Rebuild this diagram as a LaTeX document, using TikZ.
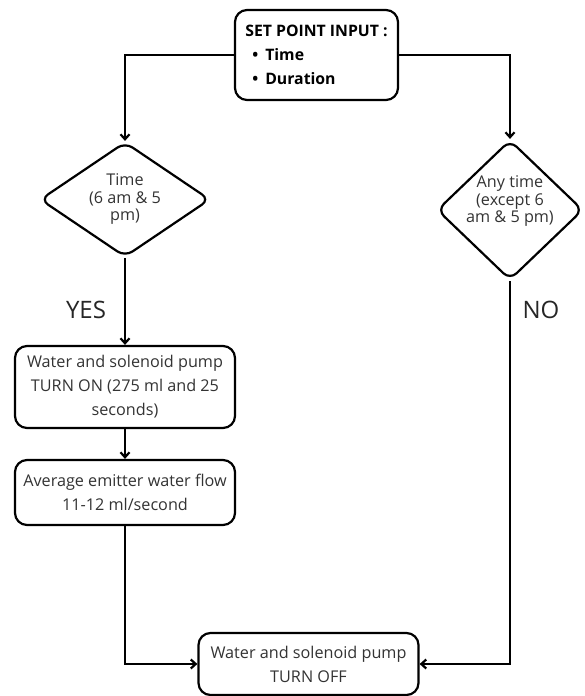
\documentclass[tikz,border=0pt]{standalone}
\usepackage{fontspec}
\setmainfont{Open Sans}
\usetikzlibrary{shapes.geometric,arrows.meta}

\begin{document}
\begin{tikzpicture}[x=1pt,y=-1pt,
    box/.style={draw,line width=2.2pt,rounded corners=12pt,align=center,inner sep=2pt,
        text=black!80,font=\fontsize{16.2}{24}\selectfont,minimum width=220pt},
    dec/.style={draw,line width=2.2pt,diamond,rounded corners=9pt,inner sep=0pt},
    lbl/.style={align=center,text=black!80,font=\fontsize{16.2}{17.5}\selectfont},
    arr/.style={line width=2.2pt,-{Straight Barb[length=5pt,width=9pt]}}]
            \useasboundingbox (0,0) rectangle (584,696);

            \node (inp) at (316.5,55) [box,minimum width=163pt,minimum height=90pt,align=left,
                font=\bfseries\fontsize{15.8}{24}\selectfont,text=black]
                {SET POINT INPUT :\\ \hspace*{7pt}\textbullet\hspace{7pt}Time\\ \hspace*{7pt}\textbullet\hspace{7pt}Duration};

            \node (d1) at (125,199.5) [dec,minimum width=170pt,minimum height=115pt] {};
            \node (t1) at (125,199) [lbl] {Time\\(6 am \& 5\\pm)};
            \node (d2) at (510,210) [dec,minimum width=146pt,minimum height=140pt] {};
            \node (t2) at (510,201) [lbl] {Any time\\(except 6\\am \& 5 pm)};

            \node (yes) at (86,310) [text=black!85,font=\fontsize{24}{24}\selectfont] {YES};
            \node (no) at (541,310) [text=black!85,font=\fontsize{24}{24}\selectfont] {NO};

            \node (on) at (125,387) [box,minimum height=82pt] {Water and solenoid pump\\TURN ON (275 ml and 25\\seconds)};
            \node (flow) at (125,492.5) [box,minimum height=65pt] {Average emitter water flow\\11-12 ml/second};
            \node (off) at (308.5,664) [box,minimum height=62pt] {Water and solenoid pump\\TURN OFF};

            \draw[arr] (inp.west) -| (d1.north);
            \draw[arr] (inp.east) -| (d2.north);
            \draw[arr] (d1.south) -- (on.north);
            \draw[arr] (on.south) -- (flow.north);
            \draw[arr] (flow.south) |- (off.west);
            \draw[arr] (d2.south) |- (off.east);

        \end{tikzpicture}
\end{document}
